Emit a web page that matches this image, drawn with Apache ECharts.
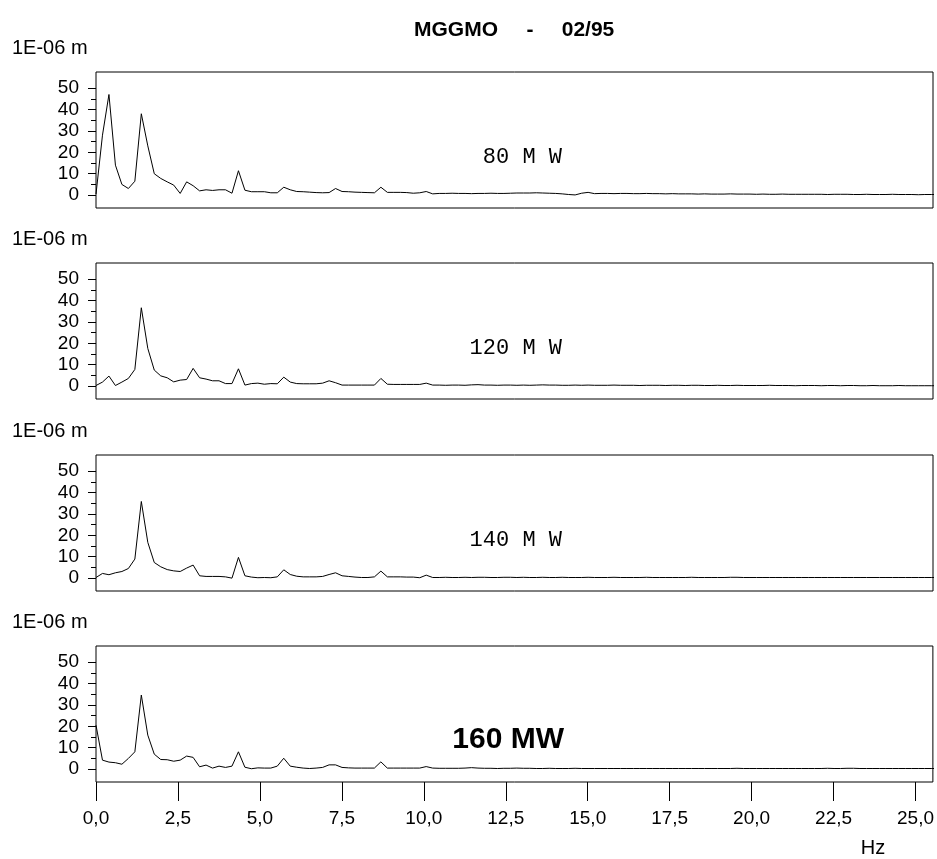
<!DOCTYPE html>
<html>
<head>
<meta charset="utf-8">
<script src="https://cdn.jsdelivr.net/npm/echarts@6/dist/echarts.min.js"></script>
<style>
  html, body { margin: 0; padding: 0; background: #fff; }
  #chart { width: 937px; height: 859px; }
</style>
</head>
<body>
<div id="chart"></div>
<script>
// spectrum bin width (Hz) and visible range
var BIN_HZ = 0.1975;
var X_MAX = 25.53;

var xTicks = [0, 2.5, 5, 7.5, 10, 12.5, 15, 17.5, 20, 22.5, 25];
var yTicks = [0, 10, 20, 30, 40, 50];
var yMinorTicks = [5, 15, 25, 35, 45];

var panelLabels = ['80 M W', '120 M W', '140 M W', '160 MW'];

// amplitude, 1E-06 m, one value per bin
var mw80 = [
  0.5, 28, 47, 14, 5, 3.1, 6.5, 38, 23, 10,
  7.8, 6.2, 4.7, 0.8, 6.2, 4.4, 2.0, 2.5, 2.2, 2.5,
  2.5, 0.9, 11.4, 2.3, 1.6, 1.6, 1.6, 1.1, 1.1, 3.7,
  2.5, 1.7, 1.6, 1.4, 1.2, 1.1, 1.2, 3.1, 1.7, 1.6,
  1.4, 1.3, 1.2, 1.1, 3.7, 1.3, 1.3, 1.3, 1.2, 0.9,
  1.1, 1.7, 0.6, 0.8, 0.8, 0.9, 0.8, 0.8, 0.7, 0.8,
  0.8, 0.9, 0.8, 0.8, 0.9, 1.0, 1.0, 1.0, 1.1, 1.0,
  0.9, 0.8, 0.6, 0.3, 0.1, 0.9, 1.3, 0.7, 0.8, 0.8,
  0.7, 0.8, 0.8, 0.7, 0.7, 0.8, 0.7, 0.7, 0.6, 0.7,
  0.6, 0.6, 0.6, 0.5, 0.6, 0.5, 0.5, 0.5, 0.6, 0.5,
  0.5, 0.5, 0.4, 0.5, 0.4, 0.4, 0.5, 0.4, 0.4, 0.4,
  0.4, 0.4, 0.4, 0.3, 0.4, 0.4, 0.4, 0.3, 0.3, 0.4,
  0.3, 0.3, 0.3, 0.4, 0.3, 0.3, 0.3, 0.2, 0.3, 0.3, 0.3
];
var mw120 = [
  0.3, 1.9, 4.7, 0.3, 1.9, 3.6, 7.8, 36.6, 17.6, 7.5,
  4.8, 3.9, 2.0, 2.8, 3.1, 8.3, 3.9, 3.3, 2.5, 2.5,
  1.2, 1.2, 8.1, 0.5, 1.2, 1.4, 0.9, 1.2, 1.1, 4.2,
  1.9, 1.2, 1.1, 1.1, 1.1, 1.4, 2.5, 1.6, 0.5, 0.5,
  0.5, 0.5, 0.5, 0.5, 3.6, 0.9, 0.8, 0.8, 0.8, 0.8,
  0.8, 1.4, 0.5, 0.5, 0.4, 0.5, 0.5, 0.4, 0.6, 0.7,
  0.5, 0.5, 0.4, 0.5, 0.5, 0.4, 0.5, 0.4, 0.5, 0.6,
  0.5, 0.5, 0.4, 0.4, 0.5, 0.4, 0.5, 0.4, 0.4, 0.4,
  0.5, 0.4, 0.4, 0.4, 0.3, 0.4, 0.4, 0.4, 0.3, 0.4,
  0.4, 0.3, 0.4, 0.4, 0.3, 0.3, 0.4, 0.3, 0.3, 0.4,
  0.3, 0.3, 0.3, 0.3, 0.4, 0.3, 0.3, 0.3, 0.2, 0.3,
  0.3, 0.3, 0.2, 0.3, 0.3, 0.2, 0.3, 0.3, 0.2, 0.2,
  0.3, 0.2, 0.2, 0.2, 0.3, 0.2, 0.2, 0.2, 0.2, 0.2, 0.2
];
var mw140 = [
  0.3, 2.2, 1.6, 2.5, 3.1, 4.5, 8.9, 35.8, 16.7, 7.3,
  5.3, 4.0, 3.4, 3.1, 4.7, 6.1, 1.1, 0.8, 0.8, 0.8,
  0.6, 0.0, 9.7, 1.1, 0.5, 0.2, 0.3, 0.2, 0.6, 3.9,
  1.7, 0.9, 0.6, 0.6, 0.6, 0.8, 1.7, 2.5, 1.1, 0.8,
  0.5, 0.3, 0.3, 0.6, 3.3, 0.6, 0.6, 0.6, 0.5, 0.5,
  0.2, 1.4, 0.3, 0.3, 0.4, 0.3, 0.3, 0.4, 0.3, 0.4,
  0.4, 0.3, 0.3, 0.4, 0.4, 0.3, 0.4, 0.3, 0.3, 0.4,
  0.3, 0.3, 0.4, 0.3, 0.3, 0.3, 0.4, 0.3, 0.3, 0.3,
  0.4, 0.3, 0.3, 0.3, 0.3, 0.4, 0.3, 0.3, 0.3, 0.3,
  0.3, 0.3, 0.4, 0.3, 0.3, 0.3, 0.3, 0.3, 0.4, 0.4,
  0.3, 0.3, 0.3, 0.3, 0.3, 0.3, 0.3, 0.3, 0.3, 0.3,
  0.3, 0.3, 0.3, 0.3, 0.3, 0.3, 0.3, 0.3, 0.3, 0.3,
  0.3, 0.3, 0.3, 0.3, 0.3, 0.3, 0.3, 0.3, 0.3, 0.3, 0.3
];
var mw160 = [
  20.5, 4.2, 3.3, 3.0, 2.3, 5.0, 8.1, 34.6, 15.9, 7.0,
  4.5, 4.4, 3.7, 4.2, 6.1, 5.5, 1.1, 1.9, 0.5, 1.4,
  0.8, 1.4, 8.1, 0.9, 0.2, 0.6, 0.5, 0.5, 1.4, 5.1,
  1.4, 0.9, 0.5, 0.3, 0.5, 0.8, 2.0, 2.0, 0.8, 0.6,
  0.5, 0.5, 0.5, 0.5, 3.4, 0.5, 0.5, 0.5, 0.5, 0.5,
  0.5, 1.2, 0.5, 0.4, 0.4, 0.4, 0.4, 0.5, 0.7, 0.5,
  0.4, 0.4, 0.3, 0.4, 0.4, 0.5, 0.4, 0.4, 0.3, 0.3,
  0.4, 0.3, 0.3, 0.3, 0.4, 0.3, 0.3, 0.3, 0.3, 0.3,
  0.3, 0.3, 0.3, 0.3, 0.3, 0.3, 0.3, 0.3, 0.3, 0.3,
  0.3, 0.3, 0.3, 0.3, 0.3, 0.3, 0.3, 0.3, 0.3, 0.4,
  0.3, 0.3, 0.3, 0.3, 0.3, 0.3, 0.3, 0.3, 0.3, 0.3,
  0.3, 0.3, 0.3, 0.4, 0.3, 0.3, 0.4, 0.4, 0.3, 0.3,
  0.3, 0.3, 0.3, 0.3, 0.3, 0.3, 0.3, 0.3, 0.3, 0.3, 0.3
];

var panels = [mw80, mw120, mw140, mw160];
var gridTops = [72, 263, 455, 646];
var GRID_H = 136;
var FONT = "'Liberation Sans', Arial, sans-serif";

var grids = [], xAxes = [], yAxes = [], series = [], graphics = [];

panels.forEach(function(values, i){
  var last = i === panels.length - 1;
  grids.push({
    left: 96, right: 4, top: gridTops[i], height: GRID_H,
    show: true, borderColor: '#000', borderWidth: 1
  });
  xAxes.push({
    gridIndex: i, type: 'value', min: 0, max: X_MAX, position: 'bottom',
    axisLine: { show: false, onZero: false },
    splitLine: { show: false },
    axisTick: { show: last, customValues: xTicks, length: 19, lineStyle: { color: '#000', width: 1 } },
    axisLabel: {
      show: last, customValues: xTicks, margin: 27,
      color: '#000', fontSize: 19, fontFamily: FONT,
      formatter: function(v){ return v.toFixed(1).replace('.', ','); }
    }
  });
  // major ticks + labels
  yAxes.push({
    gridIndex: i, type: 'value', min: -6, max: 57.5, position: 'left',
    axisLine: { show: false, onZero: false },
    splitLine: { show: false },
    axisTick: { show: true, customValues: yTicks, length: 8, lineStyle: { color: '#000' } },
    axisLabel: { customValues: yTicks, margin: 17, color: '#000', fontSize: 19, fontFamily: FONT }
  });
  // minor ticks
  yAxes.push({
    gridIndex: i, type: 'value', min: -6, max: 57.5, position: 'left',
    axisLine: { show: false, onZero: false },
    splitLine: { show: false },
    axisTick: { show: true, customValues: yMinorTicks, length: 5, lineStyle: { color: '#000' } },
    axisLabel: { show: false }
  });
  series.push({
    type: 'line',
    xAxisIndex: i, yAxisIndex: i * 2,
    data: values.map(function(v, k){ return [k * BIN_HZ, v]; }),
    showSymbol: false, symbol: 'none',
    lineStyle: { color: '#000', width: 1 },
    clip: true, animation: false
  });
  graphics.push({
    type: 'text', left: 12, top: gridTops[i] - 34,
    style: { text: '1E-06 m', fontSize: 20, fontFamily: FONT, fill: '#000' }
  });
  if (last) {
    graphics.push({
      type: 'text', x: 564, y: gridTops[i] + 94,
      style: { text: panelLabels[i], fontSize: 30, fontWeight: 'bold', fontFamily: FONT,
               fill: '#000', align: 'right', verticalAlign: 'middle' }
    });
  } else {
    graphics.push({
      type: 'text', x: 562, y: gridTops[i] + 85,
      style: { text: panelLabels[i], fontSize: 22, fontFamily: "'Courier New', 'Liberation Mono', monospace",
               fill: '#000', align: 'right', verticalAlign: 'middle' }
    });
  }
});

// title pieces and x unit
[['MGGMO', 456], ['-', 530], ['02/95', 588]].forEach(function(t){
  graphics.push({
    type: 'text', x: t[1], y: 30,
    style: { text: t[0], fontSize: 21, fontWeight: 'bold', fontFamily: FONT,
             fill: '#000', align: 'center', verticalAlign: 'middle' }
  });
});
graphics.push({
  type: 'text', x: 873, y: 848,
  style: { text: 'Hz', fontSize: 20, fontFamily: FONT, fill: '#000', align: 'center', verticalAlign: 'middle' }
});

var myChart = echarts.init(document.getElementById('chart'), null, { renderer: 'canvas' });
myChart.setOption({
  backgroundColor: '#fff',
  animation: false,
  grid: grids,
  xAxis: xAxes,
  yAxis: yAxes,
  series: series,
  graphic: graphics
});
</script>
</body>
</html>
